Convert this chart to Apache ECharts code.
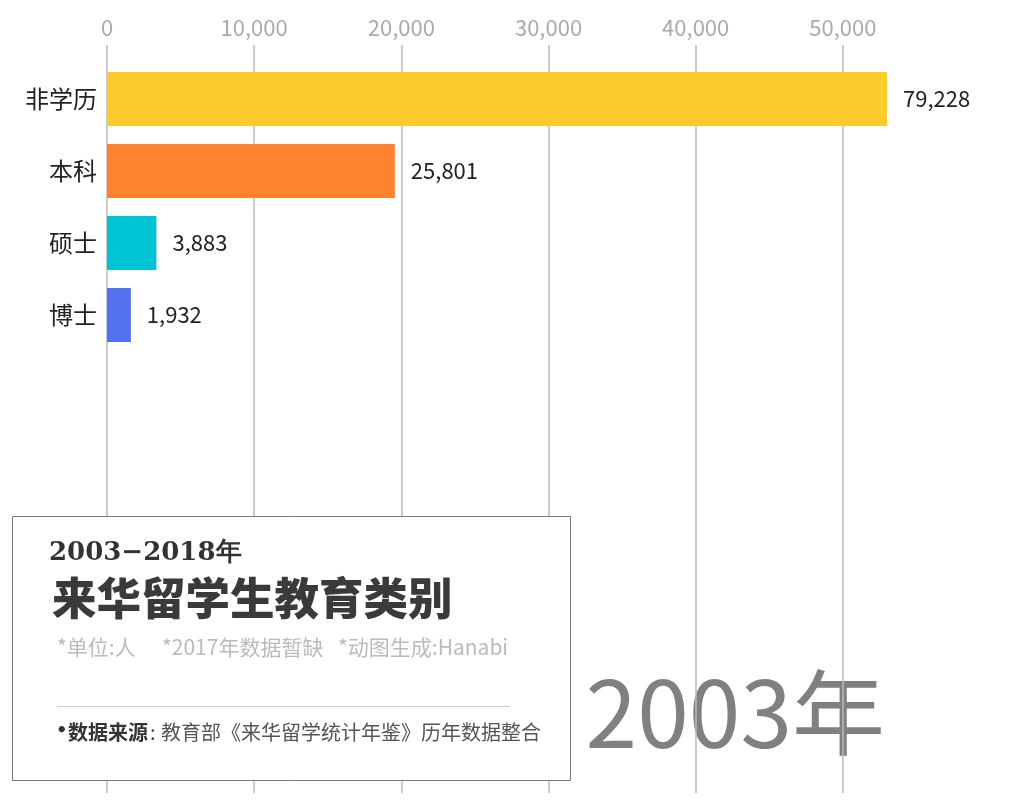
<!DOCTYPE html>
<html>
<head>
<meta charset="utf-8">
<script src="https://cdn.jsdelivr.net/npm/echarts@6/dist/echarts.min.js"></script>
<style>html,body{margin:0;padding:0;background:#fff}#c{width:1011px;height:800px}</style>
</head>
<body>
<div id="c"></div>
<script>
// ---- data ----
const categories = ['非学历', '本科', '硕士', '博士'];
const barValues = [79228, 19560, 3360, 1620];      // bar lengths as drawn (mid-animation frame)
const labelValues = [79228, 25801, 3883, 1932];    // value labels shown
const barColors = ['#FECB2F', '#FE8230', '#00C3D3', '#5270EF'];
const axisMax = 53000;
const axisInterval = 10000;
const yearText = '2003年';

const FONT = '"Noto Sans CJK SC", "Noto Sans", sans-serif';
const fmt = v => v.toLocaleString('en-US');

const chart = echarts.init(document.getElementById('c'));
chart.setOption({
  backgroundColor: '#fff',
  animation: false,
  textStyle: { fontFamily: FONT },
  grid: [
    { left: 107, right: 124, top: 45, bottom: 7 },
    { left: 107, right: 124, top: 63, height: 288 }
  ],
  xAxis: [
    {
      gridIndex: 0, type: 'value', position: 'top', min: 0, max: axisMax, interval: axisInterval,
      axisLine: { show: false }, axisTick: { show: false },
      axisLabel: { color: '#aaa', fontSize: 22, margin: 6, fontFamily: FONT, formatter: v => fmt(v), showMaxLabel: false },
      splitLine: { show: true, showMaxLine: false, lineStyle: { color: '#bbb', width: 1.5 } }
    },
    {
      gridIndex: 1, type: 'value', min: 0, max: axisMax, show: false
    }
  ],
  yAxis: [
    { gridIndex: 0, type: 'category', data: [''], show: false },
    {
      gridIndex: 1, type: 'category', inverse: true, data: categories,
      axisLine: { show: false }, axisTick: { show: false }, splitLine: { show: false },
      axisLabel: { color: '#222', fontSize: 24, margin: 10, fontFamily: FONT }
    }
  ],
  series: [{
    type: 'bar', xAxisIndex: 1, yAxisIndex: 1, barWidth: 54, clip: true,
    data: barValues.map((v, i) => ({ value: v, itemStyle: { color: barColors[i] } })),
    label: {
      show: true, position: 'right', distance: 16, color: '#222', fontSize: 22, fontFamily: FONT,
      formatter: p => fmt(labelValues[p.dataIndex])
    }
  }],
  graphic: [
    {
      type: 'text', z: -10, x: 885, y: 713,
      style: { text: yearText, fill: '#808080', font: '93px ' + FONT, align: 'right', verticalAlign: 'middle' }
    },
    { type: 'rect', z: 100, shape: { x: 12.5, y: 516.5, width: 558, height: 264 },
      style: { fill: '#fff', stroke: '#777', lineWidth: 1 } },
    { type: 'text', z: 101, x: 49, y: 553,
      style: { text: '2003−2018年', fill: '#333', font: 'bold 26px "DejaVu Serif", "Liberation Serif", serif', verticalAlign: 'middle' } },
    { type: 'text', z: 101, x: 52, y: 598,
      style: { text: '来华留学生教育类别', fill: '#3a3a3a', font: '900 44.5px "Noto Sans CJK SC"', verticalAlign: 'middle' } },
    { type: 'text', z: 101, x: 57, y: 647,
      style: { text: '*单位:人', fill: '#bbb', font: '21px ' + FONT, verticalAlign: 'middle' } },
    { type: 'text', z: 101, x: 162, y: 647,
      style: { text: '*2017年数据暂缺', fill: '#bbb', font: '21px ' + FONT, verticalAlign: 'middle' } },
    { type: 'text', z: 101, x: 338, y: 647,
      style: { text: '*动图生成:Hanabi', fill: '#bbb', font: '21px ' + FONT, verticalAlign: 'middle' } },
    { type: 'line', z: 101, shape: { x1: 57, y1: 706.5, x2: 510, y2: 706.5 },
      style: { stroke: '#ccc', lineWidth: 1 } },
    { type: 'text', z: 101, x: 56, y: 731,
      style: { text: '•', fill: '#333', font: 'bold 18px "DejaVu Sans", sans-serif', verticalAlign: 'middle' } },
    { type: 'text', z: 101, x: 68, y: 732,
      style: { text: '数据来源', fill: '#333', font: 'bold 20px ' + FONT, verticalAlign: 'middle' } },
    { type: 'text', z: 101, x: 150, y: 732,
      style: { text: ':', fill: '#444', font: '20px ' + FONT, verticalAlign: 'middle' } },
    { type: 'text', z: 101, x: 161, y: 732,
      style: { text: '教育部《来华留学统计年鉴》历年数据整合', fill: '#555', font: '20px ' + FONT, verticalAlign: 'middle' } }
  ]
});
</script>
</body>
</html>
